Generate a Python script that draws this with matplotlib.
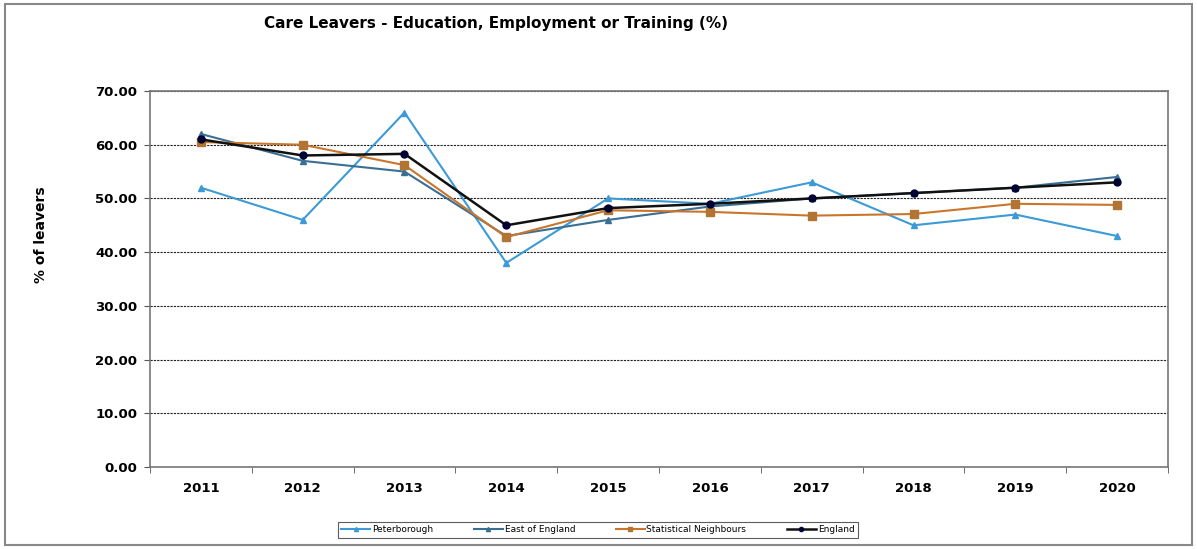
import numpy as np
import matplotlib.pyplot as plt
from matplotlib.patches import Rectangle

years = ["2011", "2012", "2013", "2014", "2015", "2016", "2017", "2018", "2019", "2020"]
peterborough = [52, 46, 66, 38, 50, 49, 53, 45, 47, 43]
east_of_england = [62, 57, 55, 43, 46, 48.5, 50, 51, 52, 54]
stat_neighbours = [60.5, 60, 56.2, 42.8, 47.8, 47.5, 46.8, 47.1, 49, 48.8]
england = [61, 58, 58.3, 45, 48.2, 49, 50, 51, 52, 53]

fig = plt.figure(figsize=(11.97, 5.49), dpi=100)
ax = fig.add_axes([0.1253, 0.1494, 0.8505, 0.6848])

x = np.arange(len(years))
ax.plot(x, peterborough, color="#3c9ad6", lw=1.5, marker="^", ms=5,
        label="Peterborough")
ax.plot(x, east_of_england, color="#3a6f94", lw=1.5, marker="^", ms=5,
        label="East of England")
ax.plot(x, stat_neighbours, color="#c9762c", lw=1.5, marker="s", ms=6,
        mfc="#b27433", mec="#b27433", label="Statistical Neighbours")
ax.plot(x, england, color="#111111", lw=1.8, marker="o", ms=5,
        mfc="#000033", mec="#000033", label="England")

ax.set_xlim(-0.5, len(years) - 0.5)
ax.set_ylim(0, 70)
ax.set_yticks(np.arange(0, 71, 10))
ax.set_yticklabels([f"{v:.2f}" for v in np.arange(0, 71, 10)],
                   fontsize=9.5, fontweight="bold")
ax.set_xticks(x)
ax.set_xticklabels(years, fontsize=9.5, fontweight="bold")
ax.set_xticks(np.arange(-0.5, len(years)), minor=True)
ax.tick_params(axis="x", which="major", length=0, pad=11)
ax.tick_params(axis="x", which="minor", length=4, direction="out", color="#555555")
ax.tick_params(axis="y", length=4, direction="out", color="#555555", pad=5)

ax.yaxis.grid(True, color="#222222", linestyle=(0, (2, 1)), lw=0.8)
ax.set_axisbelow(True)
for side in ax.spines.values():
    side.set_color("#777777")
    side.set_linewidth(1.2)

fig.text(0.034, 0.572, "% of leavers", rotation=90, ha="center", va="center",
         fontsize=10, fontweight="bold")

fig.text(0.414, 0.958, "Care Leavers - Education, Employment or Training (%)",
         ha="center", va="center", fontsize=11, fontweight="bold")

leg = fig.legend(loc="center", bbox_to_anchor=(0.4995, 0.035), ncol=4,
                 fontsize=6.5, frameon=True, fancybox=False, handlelength=3.2,
                 columnspacing=4.5, borderpad=0.4, handletextpad=0.2,
                 markerscale=0.6)
leg.get_frame().set_edgecolor("#333333")
leg.get_frame().set_linewidth(0.8)

fig.patches.append(Rectangle((0.004, 0.008), 0.992, 0.984, transform=fig.transFigure,
                             fill=False, edgecolor="#888888", lw=1.5))

fig.savefig("out.png", dpi=100)
